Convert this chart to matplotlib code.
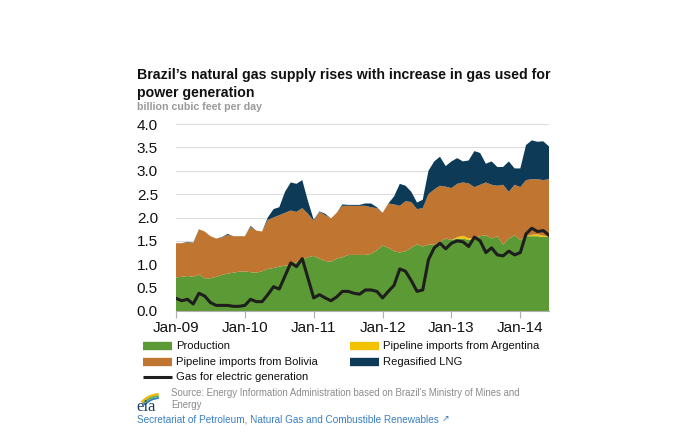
import numpy as np
import matplotlib.pyplot as plt
from matplotlib.lines import Line2D
from matplotlib.patches import Arc

plt.rcParams['font.family'] = ['Liberation Sans', 'DejaVu Sans']

# monthly data, Jan-09 .. Jun-14 (billion cubic feet per day)
production = [0.72, 0.73, 0.75, 0.73, 0.78, 0.70, 0.70, 0.73, 0.77, 0.80, 0.82, 0.84,
              0.85, 0.83, 0.82, 0.85, 0.90, 0.92, 0.95, 0.97, 0.98, 1.05, 1.10, 1.15,
              1.18, 1.12, 1.07, 1.05, 1.12, 1.15, 1.20, 1.20, 1.20, 1.20, 1.22, 1.30,
              1.40, 1.35, 1.28, 1.25, 1.28, 1.35, 1.43, 1.38, 1.42, 1.42, 1.48, 1.55,
              1.52, 1.55, 1.55, 1.52, 1.55, 1.60, 1.62, 1.55, 1.60, 1.42, 1.55, 1.62,
              1.52, 1.60, 1.60, 1.60, 1.58, 1.60]
argentina = [0.0] * 66
argentina[49] = 0.03
argentina[50] = 0.06
argentina[51] = 0.04
argentina[62] = 0.03
argentina[63] = 0.04
argentina[64] = 0.03
# cumulative tops
top_bolivia = [1.45, 1.45, 1.47, 1.45, 1.75, 1.70, 1.60, 1.55, 1.57, 1.63, 1.60, 1.60,
               1.60, 1.80, 1.72, 1.70, 1.95, 2.00, 2.05, 2.10, 2.15, 2.12, 2.20, 2.08,
               1.93, 2.12, 2.05, 1.98, 2.10, 2.25, 2.25, 2.25, 2.25, 2.25, 2.22, 2.20,
               2.10, 2.30, 2.28, 2.25, 2.35, 2.33, 2.18, 2.20, 2.50, 2.60, 2.68, 2.66,
               2.63, 2.72, 2.75, 2.73, 2.65, 2.70, 2.75, 2.70, 2.68, 2.70, 2.55, 2.70,
               2.65, 2.80, 2.82, 2.82, 2.80, 2.82]
top_total = [1.45, 1.45, 1.48, 1.46, 1.75, 1.70, 1.60, 1.55, 1.58, 1.65, 1.60, 1.60,
             1.60, 1.82, 1.72, 1.70, 2.00, 2.18, 2.22, 2.55, 2.75, 2.72, 2.80, 2.35,
             1.95, 2.13, 2.08, 1.98, 2.10, 2.28, 2.27, 2.27, 2.27, 2.30, 2.30, 2.22,
             2.10, 2.30, 2.45, 2.72, 2.68, 2.55, 2.32, 2.38, 3.00, 3.20, 3.30, 3.10,
             3.20, 3.27, 3.20, 3.22, 3.42, 3.38, 3.15, 3.20, 3.08, 3.08, 3.20, 3.05,
             3.05, 3.55, 3.65, 3.62, 3.63, 3.52]
electric = [0.27, 0.22, 0.25, 0.15, 0.38, 0.32, 0.18, 0.12, 0.12, 0.12, 0.10, 0.10,
            0.12, 0.25, 0.20, 0.20, 0.35, 0.52, 0.47, 0.75, 1.03, 0.95, 1.12, 0.70,
            0.28, 0.35, 0.28, 0.22, 0.30, 0.42, 0.42, 0.38, 0.36, 0.45, 0.45, 0.42,
            0.28, 0.42, 0.55, 0.90, 0.85, 0.65, 0.42, 0.45, 1.10, 1.35, 1.45, 1.33,
            1.45, 1.50, 1.48, 1.38, 1.58, 1.50, 1.25, 1.35, 1.20, 1.18, 1.28, 1.20,
            1.25, 1.65, 1.77, 1.70, 1.72, 1.62]
year_labels = ['Jan-09', 'Jan-10', 'Jan-11', 'Jan-12', 'Jan-13', 'Jan-14']

production = np.array(production)
argentina = np.array(argentina)
bolivia = np.array(top_bolivia) - production - argentina
lng = np.array(top_total) - np.array(top_bolivia)
months = np.arange(len(production))

c_prod = '#5b9a35'
c_arg = '#f2c200'
c_bol = '#c07530'
c_lng = '#0d3a57'

W, H = 680, 441
fig = plt.figure(figsize=(6.8, 4.41), dpi=100)
ax = fig.add_axes([176 / W, 1 - 311 / H, (549 - 176) / W, (311 - 124) / H])

ax.stackplot(months, production, argentina, bolivia, lng,
             colors=[c_prod, c_arg, c_bol, c_lng], linewidth=0)
ax.plot(months, electric, color='#1e1e1e', lw=2.2)

ax.set_xlim(0, 65)
ax.set_ylim(0, 4.0)
ax.set_yticks(np.arange(0, 4.01, 0.5))
ax.set_yticklabels([f'{v:.1f}' for v in np.arange(0, 4.01, 0.5)])
ax.set_xticks(np.arange(0, 66, 12))
ax.set_xticklabels(year_labels)
ax.yaxis.grid(True, color='#dcdcdc', lw=0.8)
ax.set_axisbelow(True)
for s in ['top', 'right', 'left']:
    ax.spines[s].set_visible(False)
ax.spines['bottom'].set_color('#b0b0b0')
ax.tick_params(axis='y', length=0, pad=13, labelsize=11, labelcolor='#111111')
ax.tick_params(axis='x', length=5, color='#b0b0b0', pad=2, labelsize=11,
               labelcolor='#111111')


def fx(px):
    return px / W


def fy(py):
    return 1 - py / H


# title and units
fig.text(fx(137), fy(75), "Brazil’s natural gas supply rises with increase in gas used for",
         fontsize=10.2, fontweight='bold', va='center', color='#111111')
fig.text(fx(137), fy(93), 'power generation', fontsize=10.2, fontweight='bold',
         va='center', color='#111111')
fig.text(fx(137), fy(107), 'billion cubic feet per day', fontsize=7.7,
         fontweight='bold', va='center', color='#9a9a9a')

# legend
legend_items = [
    (143, 346, c_prod, 6, 'Production'),
    (350, 346, c_arg, 6, 'Pipeline imports from Argentina'),
    (143, 362, c_bol, 6, 'Pipeline imports from Bolivia'),
    (350, 362, c_lng, 6, 'Regasified LNG'),
    (143, 377, '#1e1e1e', 2.2, 'Gas for electric generation'),
]
for x0, y0, col, lw, label in legend_items:
    fig.add_artist(Line2D([fx(x0), fx(x0 + 29)], [fy(y0), fy(y0)], color=col, lw=lw,
                          solid_capstyle='butt'))
    fig.text(fx(x0 + 33), fy(y0), label, fontsize=8.1, va='center', color='#111111')

# eia logo
fig.text(fx(136), fy(407), 'eia', fontsize=12, family='Liberation Serif',
         color='#1f3f66', va='center')
for col, r in [('#2f7fc0', 21), ('#6aa84f', 23), ('#f2b600', 25)]:
    fig.add_artist(Arc((fx(160), fy(419)), 2 * r / W, 2 * r / H, theta1=92, theta2=126,
                       color=col, lw=1.4, transform=fig.transFigure))

# source
fig.text(fx(171), fy(393),
         "Source: Energy Information Administration based on Brazil's Ministry of Mines and",
         fontsize=6.9, color='#8c8c8c', va='center')
fig.text(fx(171), fy(405), 'Energy', fontsize=6.9, color='#8c8c8c', va='center')
fig.text(fx(137), fy(419),
         'Secretariat of Petroleum, Natural Gas and Combustible Renewables',
         fontsize=7.2, color='#3a7fc4', va='center')
fig.text(fx(442), fy(418), '↗', fontsize=6.5, family='DejaVu Sans', color='#3a7fc4',
         va='center')

fig.savefig('out.png', dpi=100)
